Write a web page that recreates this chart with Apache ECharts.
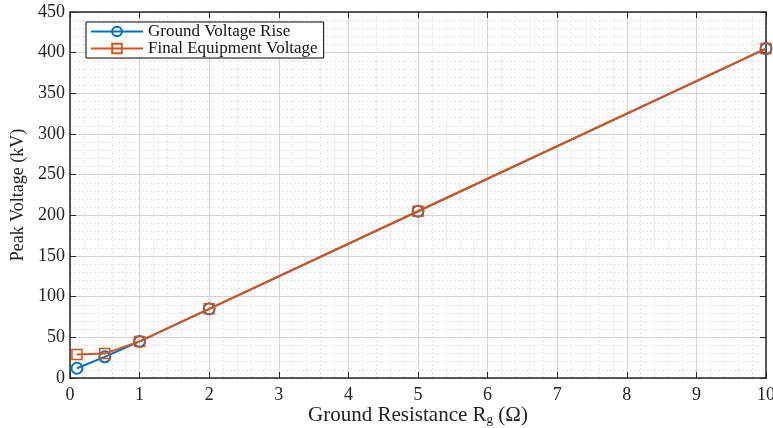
<!DOCTYPE html>
<html>
<head>
<meta charset="utf-8">
<script src="https://cdn.jsdelivr.net/npm/echarts@6/dist/echarts.min.js"></script>
<style>
  html, body { margin: 0; padding: 0; background: #fff; }
  #chart { width: 773px; height: 428px; }
</style>
</head>
<body>
<div id="chart"></div>
<script>
// Ground resistance values (Ω)
const resistance = [0.1, 0.5, 1, 2, 5, 10];
// Peak voltages (kV)
const groundVoltageRise = [12, 26, 45, 85, 205, 405];
const finalEquipmentVoltage = [29, 30, 45, 85, 205, 405];
const seriesNames = ['Ground Voltage Rise', 'Final Equipment Voltage'];

const serif = 'Liberation Serif';
const blue = '#0072BD';
const orange = '#D95319';
const chart = echarts.init(document.getElementById('chart'));

const gridLine = { show: true, lineStyle: { color: '#d4d4d4', width: 1 } };
const minorLine = { show: true, lineStyle: { color: '#e3e3e3', width: 1, type: [2, 2] } };
const boxLine = { show: true, onZero: false, lineStyle: { color: '#262626', width: 1.5 } };
const innerTick = { show: true, inside: true, length: 6, lineStyle: { color: '#262626' } };

chart.setOption({
  animation: false,
  backgroundColor: '#fff',
  grid: { left: 70, right: 7, top: 12, bottom: 50, show: false, containLabel: false, outerBoundsMode: 'none' },
  legend: {
    orient: 'vertical',
    left: 86, top: 22,
    backgroundColor: '#fff',
    borderColor: '#000', borderWidth: 1,
    padding: [1, 6, 1, 4],
    itemGap: 0,
    itemWidth: 52, itemHeight: 12,
    textStyle: { fontFamily: serif, fontSize: 17, color: '#111' },
    data: seriesNames
  },
  xAxis: [{
    type: 'value', min: 0, max: 10, interval: 1,
    name: 'Ground Resistance R{s|g} (Ω)',
    nameLocation: 'middle', nameGap: 27,
    nameMoveOverlap: false,
    nameTextStyle: {
      fontFamily: serif, fontSize: 21, color: '#222',
      rich: { s: { fontFamily: serif, fontSize: 13, color: '#222', padding: [8, 0, 0, 0] } }
    },
    axisLine: boxLine,
    axisTick: innerTick,
    axisLabel: { fontFamily: serif, fontSize: 18, color: '#222', margin: 8 },
    splitLine: gridLine,
    minorTick: { show: false, splitNumber: 5 },
    minorSplitLine: minorLine
  }, {
    type: 'value', min: 0, max: 10, interval: 1, position: 'top',
    axisLine: boxLine, axisTick: innerTick,
    axisLabel: { show: false }, splitLine: { show: false }
  }],
  yAxis: [{
    type: 'value', min: 0, max: 450, interval: 50,
    name: 'Peak Voltage (kV)',
    nameLocation: 'middle', nameGap: 40,
    nameTextStyle: { fontFamily: serif, fontSize: 18, color: '#222' },
    axisLine: boxLine,
    axisTick: innerTick,
    axisLabel: { fontFamily: serif, fontSize: 18, color: '#222', margin: 5 },
    splitLine: gridLine,
    minorTick: { show: false, splitNumber: 5 },
    minorSplitLine: minorLine
  }, {
    type: 'value', min: 0, max: 450, interval: 50, position: 'right',
    axisLine: boxLine, axisTick: innerTick,
    axisLabel: { show: false }, splitLine: { show: false }
  }],
  series: [{
    name: seriesNames[0], type: 'line',
    data: resistance.map((r, i) => [r, groundVoltageRise[i]]),
    lineStyle: { width: 2, color: blue },
    symbol: 'circle', symbolSize: 11,
    itemStyle: { color: 'rgba(255,255,255,0)', borderColor: blue, borderWidth: 2 },
    z: 3
  }, {
    name: seriesNames[1], type: 'line',
    data: resistance.map((r, i) => [r, finalEquipmentVoltage[i]]),
    lineStyle: { width: 2, color: orange },
    symbol: 'rect', symbolSize: 10,
    itemStyle: { color: 'rgba(255,255,255,0)', borderColor: orange, borderWidth: 1.5 },
    z: 4
  }]
});
</script>
</body>
</html>
